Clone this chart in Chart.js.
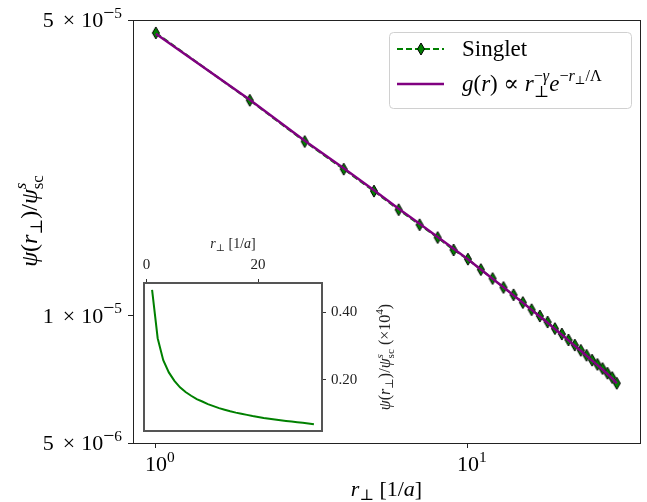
<!DOCTYPE html>
<html>
<head>
<meta charset="utf-8">
<script src="https://cdn.jsdelivr.net/npm/chart.js@4/dist/chart.umd.min.js"></script>
<style>
  body { margin: 0; background: #fff; }
  #wrap { position: relative; width: 647px; height: 502px; }
  #main { position: absolute; left: 0; top: 0; }
  #inset { position: absolute; left: 100px; top: 230px; }
</style>
</head>
<body>
<div id="wrap">
  <canvas id="main" width="647" height="502"></canvas>
  <canvas id="inset" width="300" height="215"></canvas>
</div>
<script>
// data
const rPerp = [1, 2, 3, 4, 5, 6, 7, 8, 9, 10, 11, 12, 13, 14, 15, 16, 17, 18, 19, 20,
  21, 22, 23, 24, 25, 26, 27, 28, 29, 30];
const singlet = [4.66e-5, 3.23e-5, 2.58e-5, 2.22e-5, 1.97e-5, 1.78e-5, 1.64e-5, 1.53e-5, 1.43e-5, 1.36e-5,
  1.285e-5, 1.224e-5, 1.166e-5, 1.12e-5, 1.074e-5, 1.033e-5, 9.98e-6, 9.66e-6, 9.32e-6, 9.05e-6,
  8.76e-6, 8.52e-6, 8.28e-6, 8.06e-6, 7.85e-6, 7.67e-6, 7.50e-6, 7.31e-6, 7.14e-6, 6.92e-6];
const fitCurve = [4.64e-5, 3.24e-5, 2.59e-5, 2.23e-5, 1.98e-5, 1.79e-5, 1.65e-5, 1.535e-5, 1.44e-5, 1.36e-5,
  1.286e-5, 1.223e-5, 1.167e-5, 1.118e-5, 1.073e-5, 1.032e-5, 9.96e-6, 9.62e-6, 9.30e-6, 9.01e-6,
  8.74e-6, 8.49e-6, 8.26e-6, 8.04e-6, 7.83e-6, 7.64e-6, 7.46e-6, 7.28e-6, 7.11e-6, 6.92e-6];
const xTicks = [1, 10];
const yTicks = [5e-6, 1e-5, 5e-5];
const insetXTicks = [0, 20];
const insetYTicks = [0.2, 0.4];
const insetFactor = 1e4;

const SERIF = "'Liberation Serif','DejaVu Serif',serif";
const GREEN = '#008000', PURPLE = '#800080';

// little rich text helper: parts are {t, it, sc, dy, keep, w}
function fontFor(p, size) {
  return (p.it ? 'italic ' : '') + (size * (p.sc || 1)).toFixed(1) + 'px ' + SERIF;
}
function richWidth(ctx, parts, size) {
  let w = 0;
  parts.forEach(p => {
    if (p.keep) return;
    if (p.w) { w += p.w; return; }
    ctx.font = fontFor(p, size);
    w += ctx.measureText(p.t).width;
  });
  return w;
}
function drawRich(ctx, parts, x, y, size, align, color) {
  const w = richWidth(ctx, parts, size);
  let cx = align === 'center' ? x - w / 2 : align === 'right' ? x - w : x;
  ctx.save();
  ctx.fillStyle = color || '#000';
  ctx.textBaseline = 'alphabetic';
  ctx.textAlign = 'left';
  parts.forEach(p => {
    if (p.w) { cx += p.w; return; }
    ctx.font = fontFor(p, size);
    ctx.fillText(p.t, cx, y + (p.dy || 0) * size);
    if (!p.keep) cx += ctx.measureText(p.t).width;
  });
  ctx.restore();
}

const psiLabel = [
  {t: 'ψ', it: 1}, {t: '('}, {t: 'r', it: 1}, {t: '⊥', sc: .7, dy: .2}, {t: ')/'},
  {t: 'ψ', it: 1}, {t: 's', it: 1, sc: .7, dy: -.45, keep: 1}, {t: 'sc', sc: .7, dy: .25}
];
const rLabel = [{t: 'r', it: 1}, {t: '⊥', sc: .7, dy: .2}, {t: ' [1/'}, {t: 'a', it: 1}, {t: ']'}];
const fitLabel = [
  {t: 'g', it: 1}, {t: '('}, {t: 'r', it: 1}, {t: ') ∝ '}, {t: 'r', it: 1},
  {t: '⊥', sc: .7, dy: .25, keep: 1}, {t: '−', sc: .7, dy: -.45}, {t: 'γ', it: 1, sc: .7, dy: -.45},
  {t: 'e', it: 1}, {t: '−', sc: .7, dy: -.45}, {t: 'r', it: 1, sc: .7, dy: -.45},
  {t: '⊥', sc: .5, dy: -.3}, {t: '/Λ', sc: .7, dy: -.45}
];

// thin diamond marker like matplotlib 'd'
const diamond = document.createElement('canvas');
diamond.width = 10; diamond.height = 14;
(function () {
  const c = diamond.getContext('2d');
  c.beginPath();
  c.moveTo(5, 1); c.lineTo(8.5, 7); c.lineTo(5, 13); c.lineTo(1.5, 7); c.closePath();
  c.fillStyle = GREEN; c.fill();
  c.strokeStyle = '#000'; c.lineWidth = 1; c.stroke();
})();

const mainDecor = {
  id: 'mainDecor',
  afterDraw(chart) {
    const ctx = chart.ctx, a = chart.chartArea;
    const xs = chart.scales.x, ys = chart.scales.y;
    ctx.save();
    ctx.strokeStyle = '#222'; ctx.lineWidth = 1;
    ctx.strokeRect(a.left + 0.5, a.top + 0.5, a.right - a.left, a.bottom - a.top);
    ctx.restore();

    // tick labels
    xTicks.forEach((v, i) => {
      drawRich(ctx, [{t: '10'}, {t: String(i), sc: .7, dy: -.42}], xs.getPixelForValue(v) + 4, a.bottom + 28, 22, 'center');
    });
    yTicks.forEach(v => {
      const e = Math.floor(Math.log10(v) + 1e-9);
      const m = Math.round(v / Math.pow(10, e));
      drawRich(ctx, [{t: String(m)}, {w: 9}, {t: '×'}, {w: 6}, {t: '10'}, {t: '−', sc: .9, dy: -.38}, {t: String(-e), sc: .7, dy: -.42}],
        a.left - 11, ys.getPixelForValue(v) + 7, 22, 'right');
    });

    // axis titles
    drawRich(ctx, rLabel, (a.left + a.right) / 2, 496, 22, 'center');
    ctx.save();
    ctx.translate(29, 221);
    ctx.rotate(-Math.PI / 2);
    drawRich(ctx, psiLabel, 0, 8, 24, 'center');
    ctx.restore();

    // legend
    ctx.save();
    ctx.fillStyle = 'rgba(255,255,255,0.85)';
    ctx.strokeStyle = '#d0d0d0'; ctx.lineWidth = 1;
    ctx.beginPath();
    ctx.roundRect(389.5, 32.5, 242, 76, 4);
    ctx.fill(); ctx.stroke();
    ctx.strokeStyle = GREEN; ctx.lineWidth = 2; ctx.setLineDash([6, 3]);
    ctx.beginPath(); ctx.moveTo(397, 49); ctx.lineTo(444, 49); ctx.stroke();
    ctx.setLineDash([]);
    ctx.drawImage(diamond, 421 - 5, 49 - 7);
    ctx.strokeStyle = PURPLE; ctx.lineWidth = 2.5;
    ctx.beginPath(); ctx.moveTo(397, 84); ctx.lineTo(444, 84); ctx.stroke();
    ctx.restore();
    drawRich(ctx, [{t: 'Singlet'}], 462, 56, 23, 'left');
    drawRich(ctx, fitLabel, 462, 91, 23, 'left');
  }
};

new Chart(document.getElementById('main'), {
  type: 'line',
  data: {
    datasets: [
      {
        label: 'Singlet',
        data: rPerp.map((r, i) => ({x: r, y: singlet[i]})),
        borderColor: GREEN, borderDash: [6, 3], borderWidth: 2,
        pointStyle: diamond, pointRadius: 5, pointHoverRadius: 5,
        fill: false, order: 2
      },
      {
        label: 'g(r)',
        data: rPerp.map((r, i) => ({x: r, y: fitCurve[i]})),
        borderColor: PURPLE, borderWidth: 2.5, pointRadius: 0,
        fill: false, order: 1
      }
    ]
  },
  options: {
    responsive: false,
    animation: false,
    layout: {padding: {left: 0, right: 5, top: 20, bottom: 0}},
    plugins: {legend: {display: false}, tooltip: {enabled: false}},
    scales: {
      x: {
        type: 'logarithmic', min: 0.845, max: 35.6,
        afterBuildTicks: s => { s.ticks = xTicks.map(v => ({value: v})); },
        afterFit: s => { s.height = 59; },
        ticks: {display: false},
        grid: {drawOnChartArea: false, tickLength: 5, color: '#222'},
        border: {color: '#222'}
      },
      y: {
        type: 'logarithmic', min: 5e-6, max: 5e-5,
        afterBuildTicks: s => { s.ticks = yTicks.map(v => ({value: v})); },
        afterFit: s => { s.width = 133; },
        ticks: {display: false},
        grid: {drawOnChartArea: false, tickLength: 5, color: '#222'},
        border: {color: '#222'}
      }
    }
  },
  plugins: [mainDecor]
});

// inset
const insetDecor = {
  id: 'insetDecor',
  beforeDraw(chart) {
    const ctx = chart.ctx, a = chart.chartArea;
    ctx.save();
    ctx.fillStyle = '#fff';
    ctx.fillRect(a.left, a.top, a.right - a.left, a.bottom - a.top);
    ctx.restore();
  },
  afterDraw(chart) {
    const ctx = chart.ctx, a = chart.chartArea;
    ctx.save();
    ctx.strokeStyle = '#555'; ctx.lineWidth = 2;
    ctx.strokeRect(a.left, a.top, a.right - a.left, a.bottom - a.top);
    ctx.restore();
    drawRich(ctx, rLabel, (a.left + a.right) / 2, 18, 14, 'center', '#222');
    ctx.save();
    ctx.translate(284, (a.top + a.bottom) / 2);
    ctx.rotate(-Math.PI / 2);
    drawRich(ctx, psiLabel.concat([{w: 4}, {t: '(×10'}, {t: '4', sc: .7, dy: -.45}, {t: ')'}]), 0, 6, 16, 'center', '#222');
    ctx.restore();
  }
};

const tickFont = {family: SERIF, size: 15};
new Chart(document.getElementById('inset'), {
  type: 'line',
  data: {
    datasets: [{
      data: rPerp.map((r, i) => ({x: r, y: singlet[i] * insetFactor})),
      borderColor: GREEN, borderWidth: 2, pointRadius: 0, fill: false
    }]
  },
  options: {
    responsive: false,
    animation: false,
    layout: {padding: {left: 44, top: 23, right: 18, bottom: 14}},
    plugins: {legend: {display: false}, tooltip: {enabled: false}},
    scales: {
      x: {
        type: 'linear', position: 'top', min: -0.45, max: 31.45,
        afterBuildTicks: s => { s.ticks = insetXTicks.map(v => ({value: v})); },
        afterFit: s => { s.height = 30; },
        ticks: {font: tickFont, color: '#222', padding: 5, maxRotation: 0},
        grid: {drawOnChartArea: false, tickLength: 4, color: '#333'},
        border: {color: '#555', width: 2}
      },
      y: {
        type: 'linear', position: 'right', min: 0.049, max: 0.486,
        afterBuildTicks: s => { s.ticks = insetYTicks.map(v => ({value: v})); },
        afterFit: s => { s.width = 60; },
        ticks: {font: tickFont, color: '#222', padding: 5, callback: v => v.toFixed(2)},
        grid: {drawOnChartArea: false, tickLength: 4, color: '#333'},
        border: {color: '#555', width: 2}
      }
    }
  },
  plugins: [insetDecor]
});
</script>
</body>
</html>
